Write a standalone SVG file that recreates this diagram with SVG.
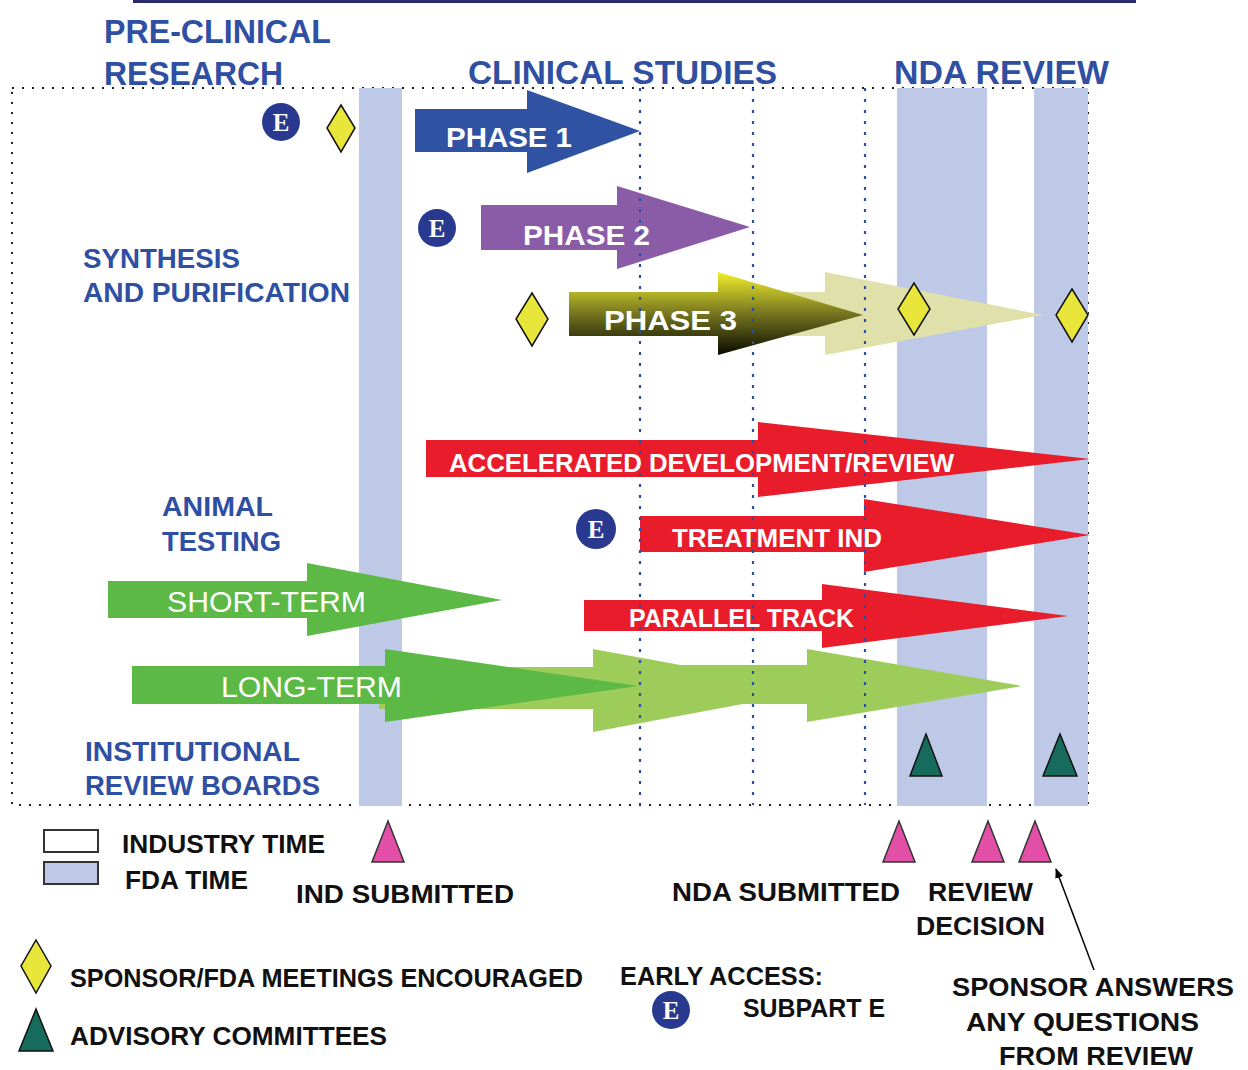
<svg xmlns="http://www.w3.org/2000/svg" width="1248" height="1070" viewBox="0 0 1248 1070">
<style>
.hd{font-family:"Liberation Sans",Arial,sans-serif;font-size:33px;font-weight:bold;fill:#2f4fa3}
.lb{font-family:"Liberation Sans",Arial,sans-serif;font-size:27px;font-weight:bold;fill:#2f4fa3}
.wt{font-family:"Liberation Sans",Arial,sans-serif;font-size:28px;font-weight:bold;fill:#fff}
.bk{font-family:"Liberation Sans",Arial,sans-serif;font-size:26px;font-weight:bold;fill:#111}
.et{font-family:"Liberation Serif","Times New Roman",serif;font-size:25px;font-weight:bold;fill:#fff}
.band{fill:#bdc9e6}
.dia{fill:#e8e63a;stroke:#111;stroke-width:1.5}
.pink{fill:#e24fa6;stroke:#333;stroke-width:1.5}
.teal{fill:#176b5c;stroke:#111;stroke-width:1.5}
.ec{fill:#2a3990}
.red{fill:#e81c2a}
.grn{fill:#5cb946}
.lgrn{fill:#9dcc5a}
.bdot{stroke:#2b4ea0;stroke-width:2.2;stroke-dasharray:3 8;fill:none}
</style>
<defs>
<linearGradient id="p3" x1="0" y1="272" x2="0" y2="355" gradientUnits="userSpaceOnUse">
<stop offset="0" stop-color="#f2ee2a"/>
<stop offset="0.5" stop-color="#767620"/>
<stop offset="1" stop-color="#0a0a00"/>
</linearGradient>
<marker id="ah" viewBox="0 0 10 10" refX="9" refY="5" markerWidth="10" markerHeight="10" orient="auto" markerUnits="userSpaceOnUse">
<path d="M0,1 L10,5 L0,9 Z" fill="#000"/>
</marker>
</defs>
<rect width="1248" height="1070" fill="#fff"/>
<rect x="133" y="0" width="1003" height="3" fill="#272a6b"/>

<g id="headings">
<text class="hd" x="104" y="43" textLength="227" lengthAdjust="spacingAndGlyphs">PRE-CLINICAL</text>
<text class="hd" x="104" y="85" textLength="179" lengthAdjust="spacingAndGlyphs">RESEARCH</text>
<text class="hd" x="468" y="84" textLength="309" lengthAdjust="spacingAndGlyphs">CLINICAL STUDIES</text>
<text class="hd" x="894" y="84" textLength="215" lengthAdjust="spacingAndGlyphs">NDA REVIEW</text>
</g>

<rect x="12" y="88" width="1076" height="717" fill="none" stroke="#222" stroke-width="2" stroke-dasharray="2 8"/>

<g id="bands">
<rect class="band" x="359" y="88" width="43" height="718"/>
<rect class="band" x="897" y="88" width="90" height="718"/>
<rect class="band" x="1034" y="88" width="54" height="718"/>
</g>

<g id="labels">
<text class="lb" x="83" y="268" textLength="157" lengthAdjust="spacingAndGlyphs">SYNTHESIS</text>
<text class="lb" x="83" y="302" textLength="267" lengthAdjust="spacingAndGlyphs">AND PURIFICATION</text>
<text class="lb" x="162" y="516" textLength="111" lengthAdjust="spacingAndGlyphs">ANIMAL</text>
<text class="lb" x="162" y="551" textLength="119" lengthAdjust="spacingAndGlyphs">TESTING</text>
<text class="lb" x="85" y="761" textLength="215" lengthAdjust="spacingAndGlyphs">INSTITUTIONAL</text>
<text class="lb" x="85" y="795" textLength="235" lengthAdjust="spacingAndGlyphs">REVIEW BOARDS</text>
</g>

<g id="phase1">
<path d="M415,109 H527 V90 L640,131 L527,173 V152 H415 Z" fill="#2f52a3"/>
</g>
<g id="phase2">
<path d="M481,205 H617 V186 L750,227 L617,269 V250 H481 Z" fill="#8a5ca8"/>
</g>
<g id="phase3">
<path d="M700,292 H825 V272 L1043,315 L825,355 V336 H700 Z" fill="#e0e0aa"/>
<path d="M569,292 H718 V272 L863,315 L718,355 V336 H569 Z" fill="url(#p3)"/>
</g>
<g id="accelerated">
<path class="red" d="M426,440 H758 V422 L1090,459 L758,497 V477 H426 Z"/>
</g>
<g id="treatment-ind">
<path class="red" d="M640,516 H864 V499 L1090,535 L864,572 V552 H640 Z"/>
</g>
<g id="parallel-track">
<path class="red" d="M584,600 H822 V584 L1068,616 L822,648 V631 H584 Z"/>
</g>
<g id="short-term">
<path class="grn" d="M108,581 H307 V563 L502,600 L307,636 V618 H108 Z"/>
</g>
<g id="long-term">
<path class="lgrn" d="M379,667 H593 V649 L818,690 L593,732 V709 H379 Z"/>
<path class="lgrn" d="M640,665 H807 V649 L1022,686 L807,722 V704 H640 Z"/>
<path class="grn" d="M132,666 H385 V649 L638,686 L385,722 V704 H132 Z"/>
</g>

<g id="dotted-lines">
<line class="bdot" x1="640" y1="88" x2="640" y2="805"/>
<line class="bdot" x1="753" y1="88" x2="753" y2="805"/>
<line class="bdot" x1="865" y1="88" x2="865" y2="805"/>
</g>

<g id="arrow-texts">
<text class="wt" x="446" y="147" textLength="126" lengthAdjust="spacingAndGlyphs">PHASE 1</text>
<text class="wt" x="523" y="245" textLength="127" lengthAdjust="spacingAndGlyphs">PHASE 2</text>
<text class="wt" x="604" y="330" textLength="133" lengthAdjust="spacingAndGlyphs">PHASE 3</text>
<text class="wt" x="449" y="472" textLength="505" lengthAdjust="spacingAndGlyphs" style="font-size:26px">ACCELERATED  DEVELOPMENT/REVIEW</text>
<text class="wt" x="672" y="547" textLength="210" lengthAdjust="spacingAndGlyphs" style="font-size:26px">TREATMENT IND</text>
<text class="wt" x="629" y="627" textLength="225" lengthAdjust="spacingAndGlyphs" style="font-size:26px">PARALLEL TRACK</text>
<text class="wt" x="167" y="612" textLength="199" lengthAdjust="spacingAndGlyphs" style="font-weight:normal;font-size:30px">SHORT-TERM</text>
<text class="wt" x="221" y="697" textLength="181" lengthAdjust="spacingAndGlyphs" style="font-weight:normal;font-size:30px">LONG-TERM</text>
</g>

<g id="e-markers">
<circle class="ec" cx="281" cy="122" r="19"/><text class="et" x="281" y="131" text-anchor="middle">E</text>
<circle class="ec" cx="437" cy="228" r="19"/><text class="et" x="437" y="237" text-anchor="middle">E</text>
<circle class="ec" cx="596" cy="529" r="20"/><text class="et" x="596" y="538" text-anchor="middle">E</text>
</g>

<g id="meetings">
<path class="dia" d="M341,105 L355,128 L341,152 L327,128 Z"/>
<path class="dia" d="M532,293 L548,319 L532,346 L516,319 Z"/>
<path class="dia" d="M914,283 L930,309 L914,335 L898,309 Z"/>
<path class="dia" d="M1072,289 L1088,315 L1072,342 L1056,315 Z"/>
</g>

<g id="advisory">
<path class="teal" d="M926,734 L942,776 L910,776 Z"/>
<path class="teal" d="M1060,734 L1077,776 L1043,776 Z"/>
</g>

<g id="milestones">
<path class="pink" d="M388,821 L404,862 L372,862 Z"/>
<path class="pink" d="M899,821 L915,862 L883,862 Z"/>
<path class="pink" d="M988,821 L1004,862 L972,862 Z"/>
<path class="pink" d="M1035,821 L1051,862 L1019,862 Z"/>
<text class="bk" x="296" y="903" textLength="218" lengthAdjust="spacingAndGlyphs">IND SUBMITTED</text>
<text class="bk" x="672" y="901" textLength="228" lengthAdjust="spacingAndGlyphs">NDA SUBMITTED</text>
<text class="bk" x="928" y="901" textLength="105" lengthAdjust="spacingAndGlyphs">REVIEW</text>
<text class="bk" x="916" y="935" textLength="129" lengthAdjust="spacingAndGlyphs">DECISION</text>
<text class="bk" x="952" y="996" textLength="282" lengthAdjust="spacingAndGlyphs">SPONSOR ANSWERS</text>
<text class="bk" x="966" y="1031" textLength="233" lengthAdjust="spacingAndGlyphs">ANY QUESTIONS</text>
<text class="bk" x="999" y="1065" textLength="194" lengthAdjust="spacingAndGlyphs">FROM REVIEW</text>
</g>

<g id="connectors">
<line x1="1094" y1="970" x2="1056" y2="869" stroke="#000" stroke-width="1.5" marker-end="url(#ah)"/>
</g>

<g id="legend">
<rect x="44" y="830" width="54" height="22" fill="#fff" stroke="#333" stroke-width="2"/>
<rect x="44" y="862" width="54" height="22" fill="#bdc9e6" stroke="#333" stroke-width="2"/>
<text class="bk" x="122" y="853" textLength="203" lengthAdjust="spacingAndGlyphs">INDUSTRY TIME</text>
<text class="bk" x="125" y="889" textLength="123" lengthAdjust="spacingAndGlyphs">FDA TIME</text>
<path class="dia" d="M36,940 L51,966 L36,993 L21,966 Z"/>
<text class="bk" x="70" y="987" textLength="513" lengthAdjust="spacingAndGlyphs">SPONSOR/FDA MEETINGS ENCOURAGED</text>
<path class="teal" d="M36,1009 L53,1051 L19,1051 Z"/>
<text class="bk" x="70" y="1045" textLength="317" lengthAdjust="spacingAndGlyphs">ADVISORY COMMITTEES</text>
<text class="bk" x="620" y="985" textLength="203" lengthAdjust="spacingAndGlyphs">EARLY ACCESS:</text>
<circle class="ec" cx="671" cy="1010" r="19"/><text class="et" x="671" y="1019" text-anchor="middle">E</text>
<text class="bk" x="743" y="1017" textLength="142" lengthAdjust="spacingAndGlyphs">SUBPART E</text>
</g>
</svg>
